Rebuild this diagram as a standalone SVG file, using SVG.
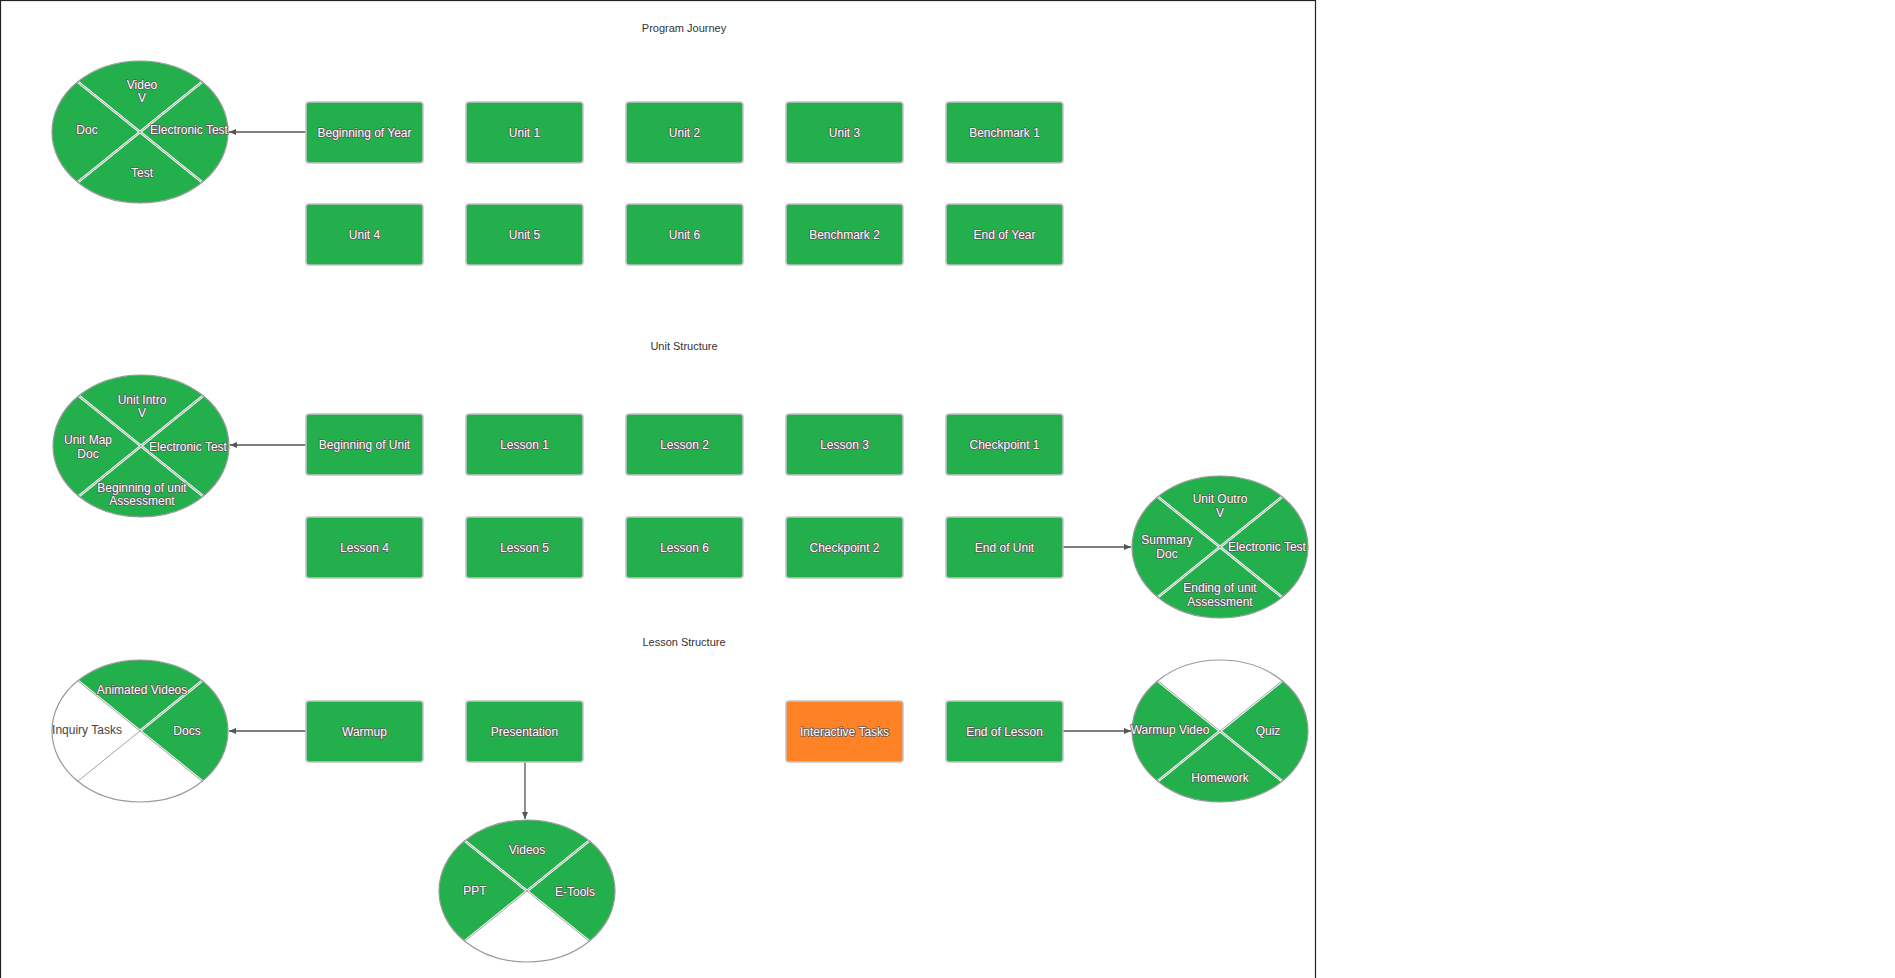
<svg xmlns="http://www.w3.org/2000/svg" width="1895" height="978" viewBox="0 0 1895 978">
<style>
.box{fill:#23b04c;stroke:#c4c4c4;stroke-width:1.5}
.orange{fill:#ff8326;stroke:#c4c4c4;stroke-width:1.5}
.lbl{font-family:"Liberation Sans",Arial,sans-serif;font-size:12px;fill:#ffffff;stroke:#5a5a5a;stroke-width:1.6;paint-order:stroke;stroke-linejoin:round;text-anchor:middle}
.plain{font-family:"Liberation Sans",Arial,sans-serif;font-size:12px;fill:#444;text-anchor:middle}
.title{font-family:"Liberation Sans",Arial,sans-serif;font-size:11px;fill:#333;text-anchor:middle}
.seg{fill:#23b04c}
.ring{fill:none;stroke:#9a9a9a;stroke-width:1.2}
.divw{stroke:#fff;stroke-width:2.6}
.divg{stroke:#9a9a9a;stroke-width:0.9}
.conn{stroke:#555;stroke-width:1.3;fill:none;marker-end:url(#ah)}
</style>
<defs>
<marker id="ah" markerWidth="8" markerHeight="8" refX="7" refY="4" orient="auto" markerUnits="userSpaceOnUse">
<path d="M0,1 L7,4 L0,7 Z" fill="#555"/>
</marker>
<path id="sTop" d="M0,0 L-62.2,-50.2 A88,71 0 0 1 62.2,-50.2 Z"/>
<path id="sRight" d="M0,0 L62.2,-50.2 A88,71 0 0 1 62.2,50.2 Z"/>
<path id="sBottom" d="M0,0 L62.2,50.2 A88,71 0 0 1 -62.2,50.2 Z"/>
<path id="sLeft" d="M0,0 L-62.2,50.2 A88,71 0 0 1 -62.2,-50.2 Z"/>
<g id="cross">
<line class="divw" x1="-62.2" y1="-50.2" x2="62.2" y2="50.2"/>
<line class="divw" x1="62.2" y1="-50.2" x2="-62.2" y2="50.2"/>
<line class="divg" x1="-62.2" y1="-50.2" x2="62.2" y2="50.2"/>
<line class="divg" x1="62.2" y1="-50.2" x2="-62.2" y2="50.2"/>
<ellipse class="ring" cx="0" cy="0" rx="88" ry="71"/>
</g>
</defs>
<rect x="0" y="0" width="1895" height="978" fill="#fff"/>
<rect x="0.5" y="0.5" width="1315" height="1000" fill="none" stroke="#222" stroke-width="1.2"/>

<text class="title" x="684" y="32">Program Journey</text>
<text class="title" x="684" y="350">Unit Structure</text>
<text class="title" x="684" y="646">Lesson Structure</text>

<g id="connectors">
<line class="conn" x1="306" y1="132" x2="229" y2="132"/>
<line class="conn" x1="306" y1="445" x2="230" y2="445"/>
<line class="conn" x1="1063" y1="547" x2="1131" y2="547"/>
<line class="conn" x1="306" y1="731" x2="229" y2="731"/>
<line class="conn" x1="525" y1="762" x2="525" y2="819"/>
<line class="conn" x1="1063" y1="731" x2="1131" y2="731"/>
</g>

<!-- Program Journey boxes -->
<g id="n-boy"><rect class="box" x="306" y="102" width="117" height="61" rx="3"/><text class="lbl" x="364.5" y="136.5">Beginning of Year</text></g>
<g id="n-u1"><rect class="box" x="466" y="102" width="117" height="61" rx="3"/><text class="lbl" x="524.5" y="136.5">Unit 1</text></g>
<g id="n-u2"><rect class="box" x="626" y="102" width="117" height="61" rx="3"/><text class="lbl" x="684.5" y="136.5">Unit 2</text></g>
<g id="n-u3"><rect class="box" x="786" y="102" width="117" height="61" rx="3"/><text class="lbl" x="844.5" y="136.5">Unit 3</text></g>
<g id="n-b1"><rect class="box" x="946" y="102" width="117" height="61" rx="3"/><text class="lbl" x="1004.5" y="136.5">Benchmark 1</text></g>
<g id="n-u4"><rect class="box" x="306" y="204" width="117" height="61" rx="3"/><text class="lbl" x="364.5" y="238.5">Unit 4</text></g>
<g id="n-u5"><rect class="box" x="466" y="204" width="117" height="61" rx="3"/><text class="lbl" x="524.5" y="238.5">Unit 5</text></g>
<g id="n-u6"><rect class="box" x="626" y="204" width="117" height="61" rx="3"/><text class="lbl" x="684.5" y="238.5">Unit 6</text></g>
<g id="n-b2"><rect class="box" x="786" y="204" width="117" height="61" rx="3"/><text class="lbl" x="844.5" y="238.5">Benchmark 2</text></g>
<g id="n-eoy"><rect class="box" x="946" y="204" width="117" height="61" rx="3"/><text class="lbl" x="1004.5" y="238.5">End of Year</text></g>

<!-- Unit Structure boxes -->
<g id="n-bou"><rect class="box" x="306" y="414" width="117" height="61" rx="3"/><text class="lbl" x="364.5" y="448.5">Beginning of Unit</text></g>
<g id="n-l1"><rect class="box" x="466" y="414" width="117" height="61" rx="3"/><text class="lbl" x="524.5" y="448.5">Lesson 1</text></g>
<g id="n-l2"><rect class="box" x="626" y="414" width="117" height="61" rx="3"/><text class="lbl" x="684.5" y="448.5">Lesson 2</text></g>
<g id="n-l3"><rect class="box" x="786" y="414" width="117" height="61" rx="3"/><text class="lbl" x="844.5" y="448.5">Lesson 3</text></g>
<g id="n-c1"><rect class="box" x="946" y="414" width="117" height="61" rx="3"/><text class="lbl" x="1004.5" y="448.5">Checkpoint 1</text></g>
<g id="n-l4"><rect class="box" x="306" y="517" width="117" height="61" rx="3"/><text class="lbl" x="364.5" y="551.5">Lesson 4</text></g>
<g id="n-l5"><rect class="box" x="466" y="517" width="117" height="61" rx="3"/><text class="lbl" x="524.5" y="551.5">Lesson 5</text></g>
<g id="n-l6"><rect class="box" x="626" y="517" width="117" height="61" rx="3"/><text class="lbl" x="684.5" y="551.5">Lesson 6</text></g>
<g id="n-c2"><rect class="box" x="786" y="517" width="117" height="61" rx="3"/><text class="lbl" x="844.5" y="551.5">Checkpoint 2</text></g>
<g id="n-eou"><rect class="box" x="946" y="517" width="117" height="61" rx="3"/><text class="lbl" x="1004.5" y="551.5">End of Unit</text></g>

<!-- Lesson Structure boxes -->
<g id="n-warm"><rect class="box" x="306" y="701" width="117" height="61" rx="3"/><text class="lbl" x="364.5" y="735.5">Warmup</text></g>
<g id="n-pres"><rect class="box" x="466" y="701" width="117" height="61" rx="3"/><text class="lbl" x="524.5" y="735.5">Presentation</text></g>
<g id="n-inter"><rect class="orange" x="786" y="701" width="117" height="61" rx="3"/><text class="lbl" x="844.5" y="735.5">Interactive Tasks</text></g>
<g id="n-eol"><rect class="box" x="946" y="701" width="117" height="61" rx="3"/><text class="lbl" x="1004.5" y="735.5">End of Lesson</text></g>

<!-- Ellipse: Beginning of Year -->
<g id="e-year" transform="translate(140,132)">
<use href="#sTop" class="seg"/><use href="#sRight" class="seg"/><use href="#sBottom" class="seg"/><use href="#sLeft" class="seg"/>
<use href="#cross"/>
<text class="lbl" x="2" y="-43">Video</text><text class="lbl" x="2" y="-30">V</text>
<text class="lbl" x="-53" y="2">Doc</text>
<text class="lbl" x="49" y="2">Electronic Test</text>
<text class="lbl" x="2" y="45">Test</text>
</g>

<!-- Ellipse: Beginning of Unit -->
<g id="e-unitstart" transform="translate(141,446)">
<use href="#sTop" class="seg"/><use href="#sRight" class="seg"/><use href="#sBottom" class="seg"/><use href="#sLeft" class="seg"/>
<use href="#cross"/>
<text class="lbl" x="1" y="-42">Unit Intro</text><text class="lbl" x="1" y="-29">V</text>
<text class="lbl" x="-53" y="-2">Unit Map</text><text class="lbl" x="-53" y="12">Doc</text>
<text class="lbl" x="47" y="5">Electronic Test</text>
<text class="lbl" x="1" y="46">Beginning of unit</text><text class="lbl" x="1" y="59">Assessment</text>
</g>

<!-- Ellipse: End of Unit -->
<g id="e-unitend" transform="translate(1220,547)">
<use href="#sTop" class="seg"/><use href="#sRight" class="seg"/><use href="#sBottom" class="seg"/><use href="#sLeft" class="seg"/>
<use href="#cross"/>
<text class="lbl" x="0" y="-44">Unit Outro</text><text class="lbl" x="0" y="-30">V</text>
<text class="lbl" x="-53" y="-3">Summary</text><text class="lbl" x="-53" y="11">Doc</text>
<text class="lbl" x="47" y="4">Electronic Test</text>
<text class="lbl" x="0" y="45">Ending of unit</text><text class="lbl" x="0" y="59">Assessment</text>
</g>

<!-- Ellipse: Warmup -->
<g id="e-warmup" transform="translate(140,731)">
<use href="#sTop" class="seg"/><use href="#sRight" class="seg"/>
<use href="#cross"/>
<text class="lbl" x="2" y="-37">Animated Videos</text>
<text class="lbl" x="47" y="4">Docs</text>
<text class="plain" x="-53" y="3">Inquiry Tasks</text>
</g>

<!-- Ellipse: Presentation -->
<g id="e-pres" transform="translate(527,891)">
<use href="#sTop" class="seg"/><use href="#sRight" class="seg"/><use href="#sLeft" class="seg"/>
<use href="#cross"/>
<text class="lbl" x="0" y="-37">Videos</text>
<text class="lbl" x="-52" y="4">PPT</text>
<text class="lbl" x="48" y="5">E-Tools</text>
</g>

<!-- Ellipse: End of Lesson -->
<g id="e-lesson" transform="translate(1220,731)">
<use href="#sRight" class="seg"/><use href="#sBottom" class="seg"/><use href="#sLeft" class="seg"/>
<use href="#cross"/>
<text class="lbl" x="-50" y="3">Warmup Video</text>
<text class="lbl" x="48" y="4">Quiz</text>
<text class="lbl" x="0" y="51">Homework</text>
</g>
</svg>
